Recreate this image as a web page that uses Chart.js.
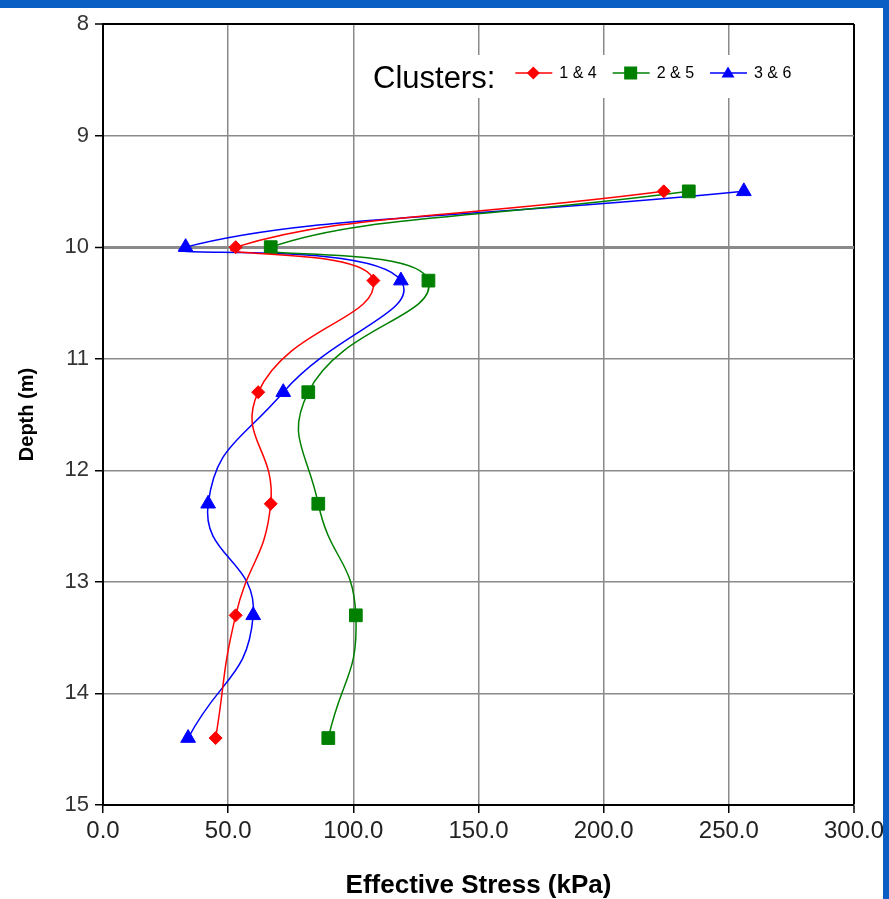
<!DOCTYPE html>
<html>
<head>
<meta charset="utf-8">
<script src="https://cdn.jsdelivr.net/npm/chart.js@4.4.0/dist/chart.umd.min.js"></script>
<style>
  body { margin: 0; background: #0a5fc4; }
  #box { position: absolute; left: 0; top: 8px; width: 883px; height: 891px; background: #fff; }
</style>
</head>
<body>
<div id="box"><canvas id="myChart"></canvas></div>
<script>
  // depth of each reading (m), same for all clusters
  const depth = [9.5, 10, 10.3, 11.3, 12.3, 13.3, 14.4];

  // effective stress (kPa) per cluster pair
  const stress14 = [224, 53, 108, 62, 67, 53, 45];
  const stress25 = [234, 67, 130, 82, 86, 101, 90];
  const stress36 = [256, 33, 119, 72, 42, 60, 34];

  const clusterNames = ['1 & 4', '2 & 5', '3 & 6'];
  const clusterColors = ['#ff0000', '#008000', '#0000ff'];
  const clusterMarks = ['rectRot', 'rect', 'triangle'];
  const clusterSizes = [6.5, 9, 8.5];

  const arial = '"Liberation Sans", Arial, sans-serif';

  function toPoints(xs) {
    return xs.map(function(v, i) { return { x: v, y: depth[i] }; });
  }

  const allStress = [stress14, stress25, stress36];

  const datasets = allStress.map(function(s, i) {
    return {
      label: clusterNames[i],
      data: toPoints(s),
      showLine: true,
      tension: 0.5,
      borderColor: clusterColors[i],
      backgroundColor: clusterColors[i],
      borderWidth: 1.5,
      pointStyle: clusterMarks[i],
      pointRadius: clusterSizes[i],
      pointHoverRadius: clusterSizes[i],
      pointBorderWidth: 1
    };
  });

  // small marker for the legend drawn by hand
  function drawMark(ctx, kind, x, y, r, color) {
    ctx.fillStyle = color;
    ctx.beginPath();
    if (kind === 'rectRot') {
      ctx.moveTo(x - r, y); ctx.lineTo(x, y - r); ctx.lineTo(x + r, y); ctx.lineTo(x, y + r);
    } else if (kind === 'rect') {
      ctx.rect(x - r, y - r, 2 * r, 2 * r);
    } else {
      ctx.moveTo(x, y - r); ctx.lineTo(x + r, y + r * 0.7); ctx.lineTo(x - r, y + r * 0.7);
    }
    ctx.closePath();
    ctx.fill();
  }

  const clusterLegend = {
    id: 'clusterLegend',
    afterDraw(chart) {
      const ctx = chart.ctx;
      ctx.save();
      ctx.fillStyle = '#fff';
      ctx.fillRect(365, 47, 450, 43);
      ctx.fillStyle = '#000';
      ctx.font = '31px ' + arial;
      ctx.textBaseline = 'alphabetic';
      ctx.fillText('Clusters:', 373, 80);
      let x = 373 + ctx.measureText('Clusters:').width + 20;
      const y = 65;
      ctx.font = '16px ' + arial;
      ctx.textBaseline = 'middle';
      for (let i = 0; i < clusterNames.length; i++) {
        ctx.strokeStyle = clusterColors[i];
        ctx.lineWidth = 1.5;
        ctx.beginPath();
        ctx.moveTo(x, y);
        ctx.lineTo(x + 37, y);
        ctx.stroke();
        drawMark(ctx, clusterMarks[i], x + 18, y, 6.5, clusterColors[i]);
        ctx.fillStyle = '#000';
        ctx.fillText(clusterNames[i], x + 44, y + 1);
        x += 44 + ctx.measureText(clusterNames[i]).width + 16;
      }
      ctx.restore();
    }
  };

  const ctx = document.getElementById('myChart').getContext('2d');
  const chart = new Chart(ctx, {
    type: 'scatter',
    data: { datasets: datasets },
    plugins: [clusterLegend],
    options: {
      responsive: true,
      maintainAspectRatio: false,
      animation: false,
      layout: { padding: { top: 16, right: 29, left: 0, bottom: 0 } },
      plugins: {
        legend: { display: false },
        tooltip: { enabled: false }
      },
      scales: {
        x: {
          type: 'linear',
          min: 0,
          max: 300,
          ticks: {
            stepSize: 50,
            padding: 4,
            color: '#222',
            font: { family: arial, size: 24 },
            callback: function(v) { return v.toFixed(1); }
          },
          grid: {
            color: function(c) { return c.tick && c.tick.value === 300 ? '#000' : '#8a8a8a'; },
            lineWidth: function(c) { return c.tick && c.tick.value === 300 ? 2 : 1.5; },
            tickColor: '#000',
            tickLength: 8,
            tickWidth: 1.5
          },
          border: { color: '#000', width: 2 },
          title: {
            display: true,
            text: 'Effective Stress (kPa)',
            color: '#000',
            font: { family: arial, size: 26, weight: 'bold', lineHeight: 1 },
            padding: { top: 0, bottom: 0 }
          },
          afterFit: function(s) { s.height = 94; s.paddingLeft = 0; s.paddingRight = 0; }
        },
        y: {
          type: 'linear',
          reverse: true,
          min: 8,
          max: 15,
          ticks: {
            stepSize: 1,
            padding: 6,
            color: '#333',
            font: { family: arial, size: 22 }
          },
          grid: {
            color: function(c) { return c.tick && c.tick.value === 8 ? '#000' : '#8a8a8a'; },
            lineWidth: function(c) {
              if (!c.tick) return 1.5;
              if (c.tick.value === 10) return 3;
              if (c.tick.value === 8) return 2;
              return 1.5;
            },
            tickColor: '#000',
            tickLength: 8,
            tickWidth: 1.5
          },
          border: { color: '#000', width: 2 },
          title: {
            display: true,
            text: 'Depth (m)',
            color: '#000',
            font: { family: arial, size: 20, weight: 'bold' },
            padding: { top: 15, bottom: 0 }
          },
          afterFit: function(s) { s.width = 103; s.paddingTop = 0; s.paddingBottom = 0; }
        }
      }
    }
  });
</script>
</body>
</html>
